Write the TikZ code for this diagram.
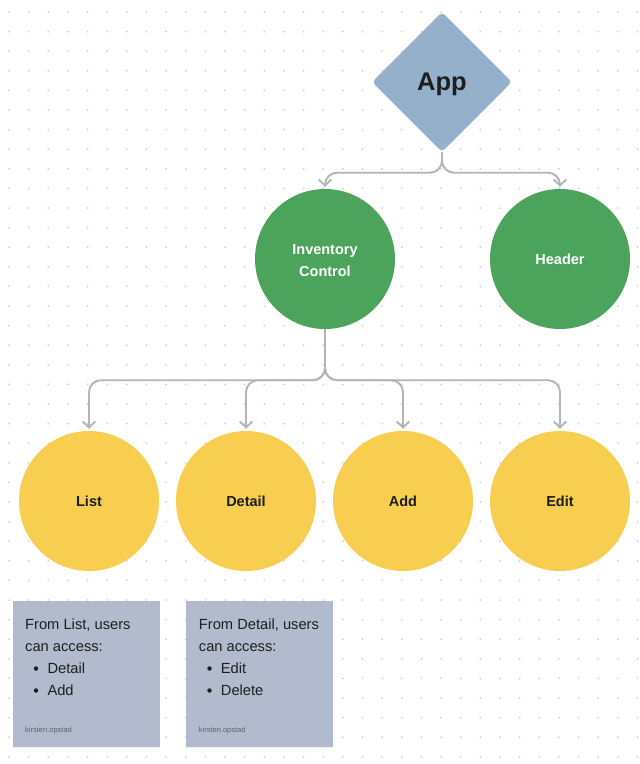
\documentclass[tikz,border=0pt]{standalone}
\usepackage{fontspec}
\setmainfont{Liberation Sans}
\usetikzlibrary{shapes.geometric,arrows.meta,shadows}

\definecolor{appblue}{HTML}{95B0CA}
\definecolor{nodegreen}{HTML}{4BA35C}
\definecolor{nodeyellow}{HTML}{F7CE4F}
\definecolor{notegray}{HTML}{B1BBCD}
\definecolor{linegray}{HTML}{B5B5B5}
\definecolor{dotgray}{HTML}{CFCFCF}
\definecolor{ink}{HTML}{1E1E1E}

\tikzset{
  rootnode/.style={diamond, fill=appblue, rounded corners=4pt, inner sep=0pt,
    minimum width=140pt, minimum height=140pt},
  rootlabel/.style={inner sep=0pt, text=ink, font=\fontsize{25.5}{28}\selectfont\bfseries},
  greencircle/.style={circle, fill=nodegreen, minimum size=140pt, inner sep=0pt,
    align=center, text=white, font=\fontsize{14.5}{22}\selectfont\bfseries},
  greenlabel/.style={inner sep=0pt, align=center, text=white, font=\fontsize{14.5}{22}\selectfont\bfseries},
  yellowcircle/.style={circle, fill=nodeyellow, minimum size=140pt, inner sep=0pt,
    text=ink, font=\fontsize{14.5}{18}\selectfont\bfseries},
  conn/.style={draw=linegray, line width=1.9pt, rounded corners=12pt,
    -{Straight Barb[length=6pt,width=12.5pt,line width=1.9pt]}, shorten >=2pt},
  notebox/.style={fill=notegray, drop shadow={opacity=0.1, shadow xshift=0pt, shadow yshift=-1.2pt}},
  notetext/.style={anchor=base west, inner sep=0pt, text=ink, font=\fontsize{14.7}{18}\selectfont},
  bulletdot/.style={circle, fill=ink, inner sep=0pt, minimum size=4.5pt},
  author/.style={anchor=base west, inner sep=0pt, text=ink!70, font=\fontsize{7.5}{9}\selectfont},
}

\begin{document}
\begin{tikzpicture}[x=1pt, y=-1pt]
  % canvas and dot grid
  \fill[white] (0,0) rectangle (640,764);
  \useasboundingbox (0,0) rectangle (640,764);
  \foreach \i in {0,...,32}{
    \foreach \j in {0,...,38}{
      \fill[dotgray] ({9+19.64*\i},{12+19.6*\j}) circle (1pt);
    }
  }

  % tree nodes
  \node[rootnode] (app) at (442,82) {};
  \node[rootlabel] (app-label) at (442,84.7) {App};
  \node[greencircle] (ic) at (325,259) {};
  \node[greenlabel] (ic-label) at (325,261) {Inventory\\Control};
  \node[greencircle] (header) at (560,259) {Header};
  \node[yellowcircle] (list) at (89,501) {List};
  \node[yellowcircle] (detail) at (246,501) {Detail};
  \node[yellowcircle] (add) at (403,501) {Add};
  \node[yellowcircle] (edit) at (560,501) {Edit};

  % connectors
  \draw[conn] (app.south) -- ++(0,20.5) -| (ic.north);
  \draw[conn] (app.south) -- ++(0,20.5) -| (header.north);
  \foreach \child in {list,detail,add,edit}{
    \draw[conn] (ic.south) -- ++(0,51) -| (\child.north);
  }

  % sticky notes
  \path[notebox] (12.7,600.7) rectangle (160,747);
  \node[notetext] (n1a) at (25,629.3) {From List, users};
  \node[notetext] (n1b) at (25,651.3) {can access:};
  \node[bulletdot] (n1c-dot) at (36,668.5) {};
  \node[notetext] (n1c) at (47.3,673.3) {Detail};
  \node[bulletdot] (n1d-dot) at (36,690.5) {};
  \node[notetext] (n1d) at (47.3,695.3) {Add};
  \node[author] (n1e) at (25,732.7) {kirsten.opstad};

  \path[notebox] (186,600.7) rectangle (333,747);
  \node[notetext] (n2a) at (198.7,629.3) {From Detail, users};
  \node[notetext] (n2b) at (198.7,651.3) {can access:};
  \node[bulletdot] (n2c-dot) at (209.5,668.5) {};
  \node[notetext] (n2c) at (220.7,673.3) {Edit};
  \node[bulletdot] (n2d-dot) at (209.5,690.5) {};
  \node[notetext] (n2d) at (220.7,695.3) {Delete};
  \node[author] (n2e) at (198.7,732.7) {kirsten.opstad};
\end{tikzpicture}
\end{document}
